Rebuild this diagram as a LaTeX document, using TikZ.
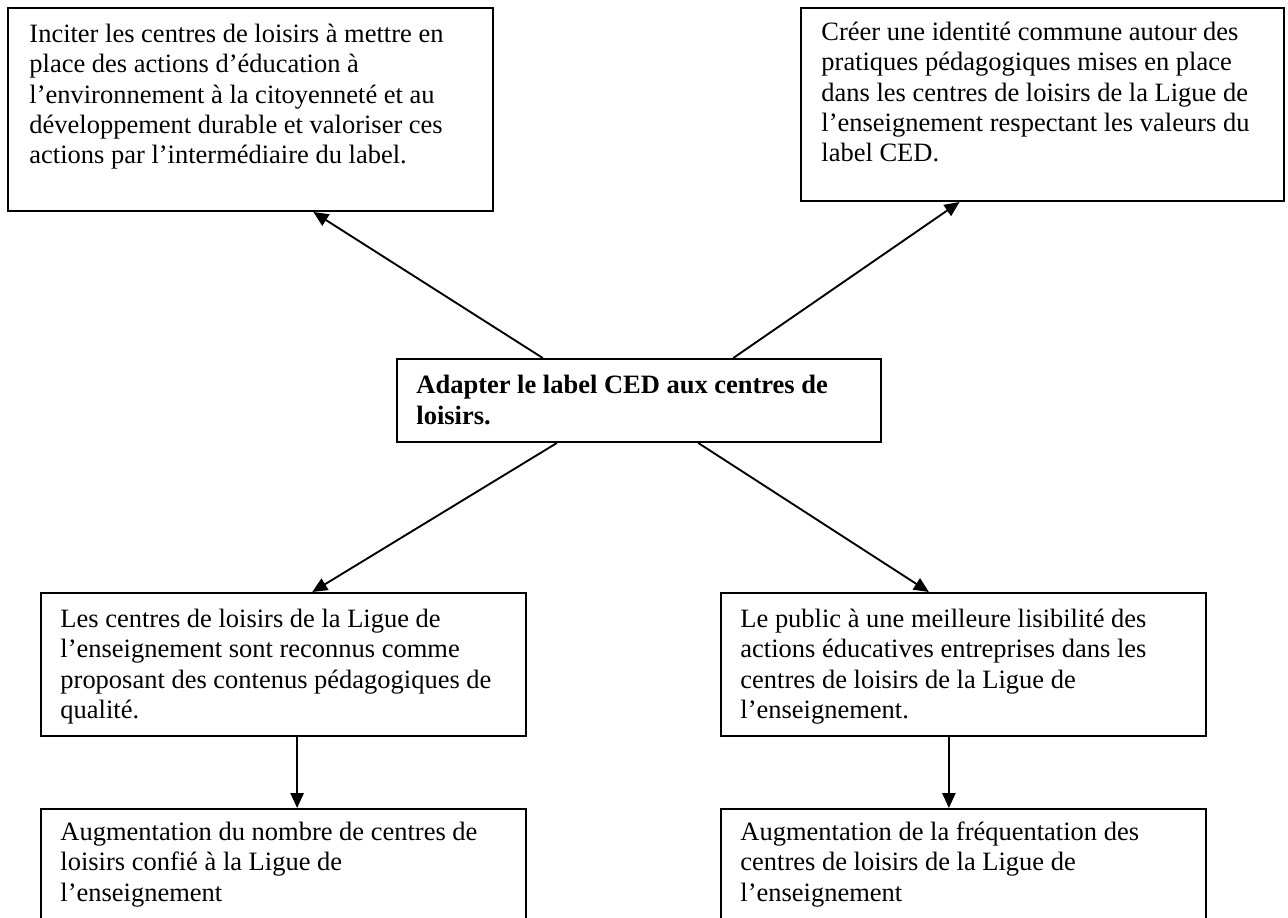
\documentclass[tikz,border=0pt]{standalone}
\usepackage{fontspec}
\setmainfont{Liberation Serif}
\usetikzlibrary{arrows.meta,calc}
\begin{document}
\begin{tikzpicture}[x=0.4531pt,y=-0.4531pt,
  boxnode/.style={draw=black,line width=0.9pt,rectangle,inner sep=0pt,anchor=north west,
    minimum width=485*0.4531pt},
  txt/.style={anchor=north west,inner sep=0pt,align=left,
    font=\fontsize{12pt}{13.7pt}\selectfont},
  conn/.style={line width=0.85pt,-{Triangle[length=6.8pt,width=6pt]}}]
\useasboundingbox (0,0) rectangle (1288,917);
\clip (0,0) rectangle (1288,917);
% boxes
\node[boxnode,minimum height=203*0.4531pt] (tl) at (7,7) {};
\node[boxnode,minimum width=483*0.4531pt,minimum height=193*0.4531pt] (tr) at (800,7) {};
\node[boxnode,minimum width=484*0.4531pt,minimum height=83*0.4531pt] (c) at (396,358) {};
\node[boxnode,minimum height=143*0.4531pt] (bl) at (40,592) {};
\node[boxnode,minimum height=143*0.4531pt] (br) at (720,592) {};
\node[boxnode,minimum height=160*0.4531pt] (bbl) at (40,808) {};
\node[boxnode,minimum height=160*0.4531pt] (bbr) at (720,808) {};
% texts
\node[txt] (tlt) at (29,21) {\strut Inciter les centres de loisirs à mettre en\\place des actions d’éducation à\\l’environnement à la citoyenneté et au\\développement durable et valoriser ces\\actions par l’intermédiaire du label.};
\node[txt] (trt) at (821,19) {\strut Créer une identité commune autour des\\pratiques pédagogiques mises en place\\dans les centres de loisirs de la Ligue de\\l’enseignement respectant les valeurs du\\label CED.};
\node[txt,font=\fontsize{12pt}{14.2pt}\selectfont\bfseries] (ct) at (416,371) {\strut Adapter le label CED aux centres de\\loisirs.};
\node[txt] (blt) at (60,606) {\strut Les centres de loisirs de la Ligue de\\l’enseignement sont reconnus comme\\proposant des contenus pédagogiques de\\qualité.};
\node[txt] (brt) at (740,606) {\strut Le public à une meilleure lisibilité des\\actions éducatives entreprises dans les\\centres de loisirs de la Ligue de\\l’enseignement.};
\node[txt] (bblt) at (60,819) {\strut Augmentation du nombre de centres de\\loisirs confié à la Ligue de\\l’enseignement};
\node[txt] (bbrt) at (740,819) {\strut Augmentation de la fréquentation des\\centres de loisirs de la Ligue de\\l’enseignement};
% connectors
\draw[conn] ($(c.north west)!0.302!(c.north east)$) -- ($(tl.south west)!0.629!(tl.south east)$);
\draw[conn] ($(c.north west)!0.694!(c.north east)$) -- ($(tr.south west)!0.329!(tr.south east)$);
\draw[conn] ($(c.south west)!0.331!(c.south east)$) -- ($(bl.north west)!0.559!(bl.north east)$);
\draw[conn] ($(c.south west)!0.622!(c.south east)$) -- ($(br.north west)!0.429!(br.north east)$);
\draw[conn] ($(bl.south west)!0.528!(bl.south east)$) -- ($(bbl.north west)!0.528!(bbl.north east)$);
\draw[conn] ($(br.south west)!0.47!(br.south east)$) -- ($(bbr.north west)!0.47!(bbr.north east)$);
\end{tikzpicture}
\end{document}
